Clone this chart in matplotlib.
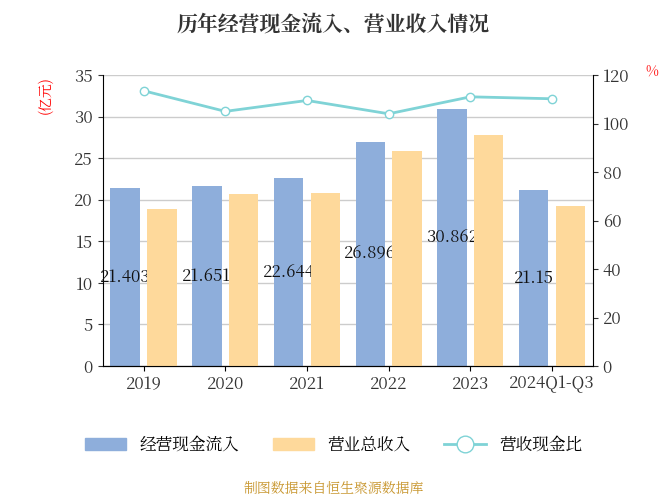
import matplotlib.pyplot as plt
import numpy as np
from matplotlib import font_manager
from matplotlib.lines import Line2D
from matplotlib.patches import Patch

# pick up a CJK font file directly if the family name lookup fails
cjk = "Noto Sans CJK SC"
for f in font_manager.findSystemFonts():
    if "CJK" in f and ("Regular" in f or "Medium" in f):
        font_manager.fontManager.addfont(f)
        cjk = font_manager.FontProperties(fname=f).get_name()
        break
plt.rcParams["font.family"] = [cjk, "DejaVu Sans"]

years = ["2019", "2020", "2021", "2022", "2023", "2024Q1-Q3"]
cash_in = [21.403, 21.651, 22.644, 26.896, 30.862, 21.15]
revenue = [18.9, 20.7, 20.8, 25.9, 27.8, 19.2]
ratio = [113.5, 105.0, 109.5, 104.0, 111.0, 110.2]

blue, orange, teal = "#8eaedb", "#fed99b", "#7fd3d6"

fig = plt.figure(figsize=(6.67, 5.0), dpi=100)
ax = fig.add_axes([0.154, 0.268, 0.735, 0.582])
x = np.arange(len(years))
w = 0.36
ax.bar(x - 0.225, cash_in, w, color=blue, zorder=2)
for xi, v in zip(x, cash_in):
    ax.text(xi - 0.225, v / 2, f"{v:.3f}" if xi < 5 else f"{v:.2f}", ha="center", va="center",
            fontsize=12, color="#111111", zorder=3)
ax.bar(x + 0.225, revenue, w, color=orange, zorder=4)
ax.set_xlim(-0.5, 5.5)
ax.set_ylim(0, 35)
ax.set_yticks(range(0, 36, 5))
ax.set_xticks(x)
ax.set_xticklabels(years, fontsize=12, color="#333333")
ax.tick_params(axis="y", labelsize=12, colors="#333333")
ax.grid(axis="y", color="#cccccc", lw=1, zorder=0)
for s in ["top", "right"]:
    ax.spines[s].set_visible(False)
ax.set_ylabel("(亿元)", color="red", fontsize=10, rotation=90)
ax.yaxis.set_label_coords(-0.1, 0.93)

ax2 = ax.twinx()
ax2.plot(x, ratio, color=teal, lw=2, marker="o", markersize=6,
         markerfacecolor="white", markeredgecolor=teal, zorder=5)
ax2.set_ylim(0, 120)
ax2.set_yticks(range(0, 121, 20))
ax2.tick_params(axis="y", labelsize=12, colors="#333333")
for s in ["top", "left"]:
    ax2.spines[s].set_visible(False)
ax2.text(1.12, 1.0, "%", transform=ax.transAxes, color="red", fontsize=10, ha="center")

fig.suptitle("历年经营现金流入、营业收入情况", fontsize=15, fontweight="bold", color="#333333", y=0.975)
handles = [Patch(color=blue), Patch(color=orange),
           Line2D([], [], color=teal, lw=2, marker="o", markersize=12, markerfacecolor="white")]
fig.legend(handles, ["经营现金流入", "营业总收入", "营收现金比"], loc="center", ncol=3,
           bbox_to_anchor=(0.5, 0.11), frameon=False, fontsize=12, handlelength=2.5)
fig.text(0.5, 0.015, "制图数据来自恒生聚源数据库", ha="center", color="#c8962e", fontsize=10)
fig.savefig("out.png")
